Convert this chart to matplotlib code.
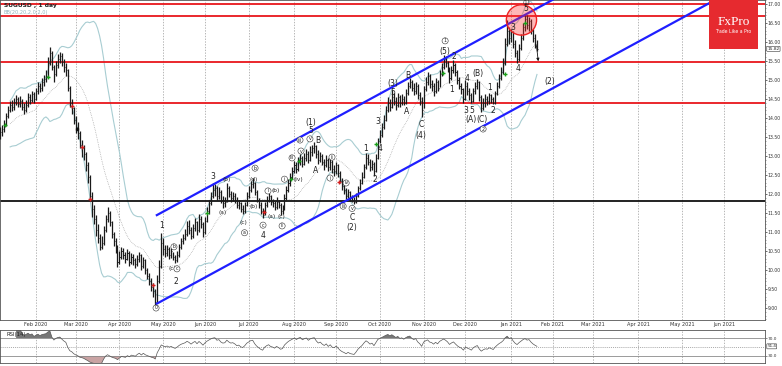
import matplotlib
matplotlib.use("Agg")
import matplotlib.pyplot as plt
import matplotlib.transforms as mtransforms
from matplotlib.patches import Ellipse
import numpy as np
import pandas as pd

# SUGUSD daily bars from 6 Jan 2020 (business days)
closes = [
    13.45, 13.55, 13.62, 13.70, 13.85, 14.05, 14.20, 14.35, 14.28, 14.42,
    14.50, 14.38, 14.46, 14.30, 14.22, 14.35, 14.55, 14.48, 14.62, 14.50,
    14.70, 14.85, 14.78, 14.95, 15.02, 15.10, 15.45, 15.70, 15.35, 15.15,
    15.40, 15.55, 15.62, 15.48, 15.35, 15.25, 14.80, 14.40, 14.25, 13.95,
    13.75, 13.60, 13.30, 13.20, 13.05, 12.75, 12.45, 11.95, 11.60, 11.35,
    11.05, 10.85, 10.60, 10.70, 11.05, 11.35, 11.50, 11.25, 10.95, 10.75,
    10.60, 10.20, 10.35, 10.50, 10.40, 10.30, 10.45, 10.20, 10.35, 10.25,
    10.15, 10.30, 10.40, 10.10, 10.25, 10.00, 9.85, 9.70, 9.55, 9.45,
    9.15, 9.70, 10.10, 10.70, 10.55, 10.45, 10.55, 10.40, 10.50, 10.35,
    10.25, 10.40, 10.60, 10.75, 10.85, 10.95, 11.15, 11.05, 10.90, 11.10,
    11.25, 11.05, 11.35, 11.20, 11.00, 11.30, 11.55, 11.75, 11.95, 12.10,
    12.15, 11.95, 12.05, 11.85, 11.75, 11.80, 12.15, 12.00, 11.90, 11.95,
    11.85, 11.70, 11.75, 11.60, 11.55, 11.70, 11.95, 12.10, 12.25, 12.30,
    12.05, 11.85, 11.70, 11.55, 11.45, 11.70, 11.85, 11.95, 11.80, 11.75,
    11.65, 11.80, 11.70, 11.55, 11.60, 11.90, 12.10, 12.30, 12.45, 12.60,
    12.75, 12.65, 12.85, 12.95, 12.80, 12.95, 13.05, 12.90, 13.10, 13.20,
    13.25, 13.05, 12.90, 13.00, 12.85, 12.75, 12.90, 12.70, 12.85, 12.65,
    12.60, 12.75, 12.55, 12.35, 12.20, 12.10, 11.95, 12.05, 11.90, 11.85,
    11.80, 11.95, 12.15, 12.30, 12.45, 12.70, 12.95, 12.85, 12.70, 12.80,
    12.60, 12.95, 13.40, 13.55, 13.75, 13.95, 14.20, 14.40, 14.30, 14.55,
    14.45, 14.35, 14.55, 14.40, 14.50, 14.40, 14.65, 14.85, 14.95, 14.80,
    14.70, 14.85, 14.60, 14.45, 14.20, 14.75, 14.95, 15.10, 14.90, 14.85,
    14.70, 14.95, 14.80, 15.15, 15.35, 15.55, 15.45, 15.30, 15.05, 15.25,
    15.40, 15.20, 15.00, 14.85, 14.75, 14.50, 14.85, 14.70, 14.60, 14.45,
    14.70, 14.85, 14.95, 14.55, 14.25, 14.40, 14.50, 14.45, 14.60, 14.50,
    14.40, 14.65, 14.85, 15.05, 15.20, 15.45, 15.95, 16.30, 16.10, 16.25,
    15.95, 15.70, 15.55, 15.85, 16.10, 16.40, 16.60, 16.45, 16.55, 16.30,
    16.10, 15.95, 15.82,
]
highs = [
    13.60, 13.65, 13.75, 13.82, 13.95, 14.12, 14.32, 14.45, 14.48, 14.52,
    14.60, 14.55, 14.58, 14.50, 14.40, 14.48, 14.65, 14.62, 14.72, 14.68,
    14.78, 14.95, 14.92, 15.05, 15.12, 15.25, 15.60, 15.88, 15.75, 15.40,
    15.50, 15.68, 15.74, 15.70, 15.55, 15.45, 15.28, 14.85, 14.50, 14.30,
    14.05, 13.90, 13.65, 13.42, 13.30, 13.10, 12.85, 12.50, 12.05, 11.70,
    11.45, 11.20, 10.95, 10.90, 11.15, 11.45, 11.66, 11.55, 11.30, 11.00,
    10.85, 10.65, 10.50, 10.60, 10.58, 10.48, 10.55, 10.50, 10.45, 10.42,
    10.32, 10.40, 10.48, 10.42, 10.35, 10.28, 10.05, 9.92, 9.80, 9.65,
    9.50, 9.87, 10.25, 10.97, 10.85, 10.65, 10.65, 10.60, 10.58, 10.48,
    10.40, 10.50, 10.68, 10.85, 10.95, 11.08, 11.28, 11.32, 11.12, 11.20,
    11.38, 11.30, 11.48, 11.42, 11.25, 11.40, 11.65, 11.85, 12.05, 12.29,
    12.25, 12.20, 12.18, 12.10, 11.95, 11.92, 12.28, 12.22, 12.08, 12.05,
    12.02, 11.92, 11.85, 11.80, 11.70, 11.78, 12.05, 12.20, 12.35, 12.42,
    12.32, 12.10, 11.90, 11.78, 11.62, 11.80, 11.95, 12.03, 11.98, 11.88,
    11.82, 11.92, 11.85, 11.75, 11.70, 12.00, 12.20, 12.40, 12.55, 12.70,
    12.88, 12.85, 12.97, 13.05, 13.00, 13.08, 13.18, 13.12, 13.25, 13.30,
    13.37, 13.30, 13.15, 13.10, 13.05, 12.92, 13.02, 12.95, 12.95, 12.90,
    12.75, 12.85, 12.80, 12.60, 12.42, 12.30, 12.15, 12.12, 12.08, 11.98,
    11.92, 12.02, 12.22, 12.40, 12.58, 12.80, 13.08, 13.05, 12.92, 12.90,
    12.85, 13.05, 13.48, 13.68, 13.87, 14.08, 14.32, 14.55, 14.50, 14.74,
    14.66, 14.55, 14.65, 14.60, 14.62, 14.58, 14.75, 14.95, 15.05, 15.00,
    14.92, 14.95, 14.90, 14.68, 14.55, 14.85, 15.08, 15.22, 15.15, 15.00,
    14.92, 15.05, 15.00, 15.25, 15.45, 15.66, 15.62, 15.50, 15.35, 15.38,
    15.52, 15.45, 15.25, 15.08, 14.92, 14.80, 15.00, 14.95, 14.78, 14.65,
    14.80, 14.95, 15.03, 14.98, 14.60, 14.52, 14.62, 14.58, 14.66, 14.64,
    14.55, 14.72, 14.95, 15.15, 15.34, 15.58, 16.10, 16.58, 16.40, 16.35,
    16.30, 16.05, 15.80, 15.95, 16.22, 16.50, 16.74, 16.70, 16.65, 16.60,
    16.35, 16.20, 16.05,
]
lows = [
    13.35, 13.38, 13.45, 13.52, 13.62, 13.80, 14.00, 14.15, 14.18, 14.22,
    14.35, 14.28, 14.30, 14.20, 14.10, 14.15, 14.30, 14.38, 14.42, 14.40,
    14.48, 14.62, 14.68, 14.72, 14.85, 14.95, 15.05, 15.40, 15.25, 14.96,
    15.10, 15.32, 15.45, 15.38, 15.20, 15.10, 14.70, 14.30, 14.10, 13.85,
    13.60, 13.45, 13.20, 12.98, 12.90, 12.60, 12.30, 11.85, 11.40, 11.20,
    10.90, 10.70, 10.53, 10.55, 10.65, 11.00, 11.25, 11.15, 10.85, 10.62,
    10.45, 10.08, 10.15, 10.28, 10.30, 10.18, 10.25, 10.10, 10.15, 10.12,
    10.05, 10.10, 10.20, 10.00, 10.05, 9.90, 9.75, 9.60, 9.45, 9.30,
    9.08, 9.12, 9.65, 10.05, 10.40, 10.35, 10.38, 10.30, 10.32, 10.25,
    10.18, 10.20, 10.35, 10.55, 10.68, 10.78, 10.90, 10.95, 10.82, 10.85,
    11.02, 10.92, 11.00, 11.10, 10.88, 10.95, 11.25, 11.48, 11.70, 11.90,
    11.95, 11.85, 11.88, 11.75, 11.63, 11.65, 11.78, 11.92, 11.80, 11.82,
    11.75, 11.62, 11.60, 11.52, 11.48, 11.50, 11.68, 11.90, 12.05, 12.15,
    11.98, 11.78, 11.62, 11.48, 11.37, 11.45, 11.65, 11.78, 11.72, 11.65,
    11.58, 11.60, 11.62, 11.45, 11.48, 11.58, 11.85, 12.05, 12.22, 12.40,
    12.55, 12.55, 12.60, 12.75, 12.70, 12.75, 12.88, 12.82, 12.88, 13.00,
    13.08, 12.95, 12.80, 12.85, 12.75, 12.62, 12.70, 12.60, 12.62, 12.55,
    12.48, 12.52, 12.45, 12.28, 12.10, 12.00, 11.88, 11.90, 11.82, 11.78,
    11.74, 11.76, 11.92, 12.10, 12.25, 12.42, 12.65, 12.75, 12.60, 12.62,
    12.47, 12.58, 12.92, 13.35, 13.50, 13.70, 13.92, 14.15, 14.18, 14.25,
    14.35, 14.22, 14.30, 14.30, 14.35, 14.34, 14.38, 14.60, 14.78, 14.70,
    14.60, 14.62, 14.50, 14.35, 14.03, 14.25, 14.70, 14.88, 14.80, 14.72,
    14.58, 14.65, 14.70, 14.82, 15.10, 15.30, 15.35, 15.20, 14.92, 15.00,
    15.18, 15.10, 14.90, 14.75, 14.62, 14.40, 14.48, 14.60, 14.48, 14.40,
    14.42, 14.62, 14.75, 14.45, 14.16, 14.20, 14.30, 14.35, 14.38, 14.40,
    14.37, 14.38, 14.60, 14.80, 15.00, 15.15, 15.40, 15.90, 15.95, 16.00,
    15.85, 15.60, 15.45, 15.50, 15.80, 16.05, 16.30, 16.35, 16.30, 16.20,
    16.00, 15.85, 15.75,
]

# horizontal levels
red_levels = [17.00, 16.68, 15.48, 14.40]
black_level = 11.82

# signal markers (bar index, price)
green_sig_x = [4.4, 25.9, 106, 148.3, 152.3, 191, 224.8, 255.9, 266]
green_sig_y = [13.82, 15.09, 11.50, 12.39, 12.87, 13.32, 15.18, 15.16, 16.50]
red_sig_x = [38.1, 43.2, 47.2, 78.9, 134.7, 172.6]
red_sig_y = [14.32, 13.24, 11.87, 9.61, 11.53, 12.32]

dates = pd.bdate_range("2020-01-06", "2021-06-30")
n = len(closes)
x = np.arange(n)
s = pd.Series(closes)

# Bollinger(20, 2)
mid = s.rolling(20, min_periods=8).mean()
sd = s.rolling(20, min_periods=8).std(ddof=0)
upper = mid + 2 * sd
lower = mid - 2 * sd

# RSI(14)
delta = s.diff()
gain = delta.clip(lower=0).ewm(alpha=1 / 14, adjust=False, min_periods=10).mean()
loss = (-delta.clip(upper=0)).ewm(alpha=1 / 14, adjust=False, min_periods=10).mean()
rsi = 100 - 100 / (1 + gain / loss)

fig = plt.figure(figsize=(7.82, 3.66), dpi=100)
W, H = 782.0, 366.0
ax = fig.add_axes([0, 1 - 320 / H, 765 / W, 320 / H])
ax2 = fig.add_axes([0, 1 - 363 / H, 765 / W, 33 / H], sharex=ax)

xmin, xmax = 1.9, 386.7
ax.set_xlim(xmin, xmax)
ax.set_ylim(8.684, 17.105)

# month grid
month_pos = []
month_lab = []
prev = None
for i, d in enumerate(dates):
    if d.month != prev:
        if i > 0:
            month_pos.append(i)
            month_lab.append(d.strftime("%b %Y"))
        prev = d.month
for a in (ax, ax2):
    for p in month_pos:
        a.axvline(p, color="#9a9a9a", lw=0.5, ls=(0, (2, 2)), zorder=0)

# levels
for lv in red_levels:
    ax.axhline(lv, color="#e8161b", lw=1.3, zorder=2)
ax.axhline(black_level, color="#111111", lw=1.3, zorder=2)

# bollinger
ax.plot(x, upper, color="#a8cdd2", lw=0.8, zorder=1)
ax.plot(x, lower, color="#a8cdd2", lw=0.8, zorder=1)
ax.plot(x, mid, color="#9a9a9a", lw=0.5, ls=(0, (1, 1.5)), zorder=1)

# bars
ax.vlines(x, lows, highs, color="#1a1a1a", lw=0.9, zorder=3)
ax.hlines(closes, x, x + 0.55, color="#1a1a1a", lw=0.6, zorder=3)

# channel
ch_x0 = 80.3
ch_slope = 0.02846
ch_upper0 = 11.43
ch_lower0 = 9.10
ch_x1 = 420
ax.plot([ch_x0, ch_x1], [ch_upper0, ch_upper0 + ch_slope * (ch_x1 - ch_x0)],
        color="#1f1fff", lw=1.6, zorder=4, solid_capstyle="butt")
ax.plot([ch_x0, ch_x1], [ch_lower0, ch_lower0 + ch_slope * (ch_x1 - ch_x0)],
        color="#1f1fff", lw=1.6, zorder=4, solid_capstyle="butt")

# red circle at the top
ax.add_patch(Ellipse((264.2, 16.58), width=15.2, height=0.80,
                     fc=(1, 0.2, 0.2, 0.35), ec="#ee2222", lw=1.0, zorder=5))

# signals
ax.plot(green_sig_x, green_sig_y, ls="none", marker="+", ms=3, mew=1.0, color="#1aa01a", zorder=6)
ax.plot(red_sig_x, red_sig_y, ls="none", marker="+", ms=3, mew=1.0, color="#d42020", zorder=6)
ax.plot([40.6], [13.71], ls="none", marker="s", ms=1.5, color="#111111", zorder=6)

# forecast arrow
ax.annotate("", xy=(272.8, 15.42), xytext=(271.6, 15.98),
            arrowprops=dict(arrowstyle="-|>", color="#111111", lw=0.6,
                            mutation_scale=4), zorder=6)

# wave labels: (text, bar index, price, kind) kind: big / small / circ
waves = [
    ("0", 80.4, 9.00, "circ"), ("1", 83.4, 11.18, "big"), ("b", 89.4, 10.61, "circ"),
    ("(c)", 88.5, 10.05, "small"), ("c", 90.9, 10.03, "circ"), ("2", 90.4, 9.71, "big"),
    ("3", 109.1, 12.45, "big"), ("(b)", 116.1, 12.39, "small"), ("(a)", 114.1, 11.50, "small"),
    ("b", 130.2, 12.68, "circ"), ("(d)", 129.7, 12.39, "small"), ("(b)", 129.7, 11.68, "small"),
    ("(c)", 124.6, 11.24, "small"), ("a", 124.9, 10.98, "circ"), ("c", 134.2, 11.18, "circ"),
    ("4", 134.2, 10.92, "big"), ("i", 136.7, 12.08, "circ"), ("(b)", 140.7, 12.08, "small"),
    ("(a)", 138.7, 11.42, "small"), ("(c)", 143.3, 11.42, "small"), ("ii", 143.8, 11.16, "circ"),
    ("i", 145.0, 12.39, "circ"), ("(iv)", 152.0, 12.37, "small"), ("iii", 148.8, 12.95, "circ"),
    ("v", 153.3, 13.13, "circ"), ("iii", 152.8, 13.42, "circ"), ("v", 157.8, 13.45, "circ"),
    ("(1)", 158.3, 13.89, "big"), ("5", 158.3, 13.66, "big"), ("B", 161.9, 13.42, "big"),
    ("A", 160.4, 12.63, "big"), ("i", 167.9, 12.42, "circ"), ("ii", 168.9, 12.97, "circ"),
    ("iv", 176.0, 12.29, "circ"), ("iii", 174.5, 11.68, "circ"), ("v", 179.0, 11.62, "circ"),
    ("C", 179.0, 11.39, "big"), ("(2)", 179.0, 11.11, "big"), ("2", 190.5, 12.37, "big"),
    ("1", 186.0, 13.21, "big"), ("3", 192.0, 13.92, "big"), ("4", 193.0, 13.21, "big"),
    ("(3)", 199.6, 14.92, "big"), ("5", 199.6, 14.68, "big"), ("B", 207.1, 15.11, "big"),
    ("A", 206.6, 14.18, "big"), ("C", 213.7, 13.84, "big"), ("(4)", 213.7, 13.55, "big"),
    ("1", 225.8, 16.03, "circ"), ("(5)", 225.8, 15.76, "big"), ("2", 230.3, 15.61, "big"),
    ("1", 228.8, 14.76, "big"), ("4", 236.8, 15.03, "big"), ("(B)", 242.4, 15.18, "big"),
    ("3", 236.3, 14.21, "big"), ("5", 239.3, 14.21, "big"), ("(A)", 238.8, 13.95, "big"),
    ("(C)", 244.4, 13.97, "big"), ("2", 244.9, 13.71, "circ"), ("1", 248.4, 14.79, "big"),
    ("2", 249.9, 14.21, "big"), ("3", 260.0, 16.39, "big"), ("4", 262.5, 15.29, "big"),
    ("5", 266.5, 16.87, "big"), ("(2)", 278.6, 14.97, "big"),
]
for t, wx, wy, kind in waves:
    if kind == "big":
        ax.text(wx, wy, t, ha="center", va="center", fontsize=5.5, color="#222222", zorder=7)
    elif kind == "small":
        ax.text(wx, wy, t, ha="center", va="center", fontsize=4.2, color="#222222", zorder=7)
    else:
        ax.text(wx, wy, t, ha="center", va="center", fontsize=3.4, color="#222222", zorder=7,
                bbox=dict(boxstyle="circle,pad=0.12", fc="white", ec="#333333", lw=0.4))
# top label squeezed under the frame
ax.text(266.8, 17.10, "(1)", ha="center", va="top", fontsize=4.0, color="#222222", zorder=7)

# header
ax.text(0.005, 0.992, "SUGUSD , 1 day", transform=ax.transAxes, fontsize=4.3,
        fontweight="bold", color="#222222", va="top", ha="left", zorder=8)
ax.text(0.005, 0.968, "BB(20,20,2.0,2,0)", transform=ax.transAxes, fontsize=3.6,
        color="#8fb3bd", va="top", ha="left", zorder=8)

# FxPro logo
logo = fig.add_axes([709 / W, 1 - 49 / H, 49 / W, 49 / H])
logo.set_facecolor("#e62a2f")
logo.set_xticks([])
logo.set_yticks([])
for sp in logo.spines.values():
    sp.set_visible(False)
logo.text(0.5, 0.55, "FxPro", ha="center", va="center", color="white",
          fontsize=9.5, family="Liberation Serif")
logo.text(0.5, 0.36, "Trade Like a Pro", ha="center", va="center", color="white",
          fontsize=3.3)

# price axis
ax.yaxis.tick_right()
ax.set_yticks(np.arange(9.0, 17.01, 0.5))
ax.set_yticks(np.arange(8.7, 17.1, 0.1), minor=True)
ax.yaxis.set_major_formatter(matplotlib.ticker.FormatStrFormatter("%.2f"))
ax.tick_params(axis="y", which="major", labelsize=3.3, length=1.6, width=0.5, pad=0.5,
               colors="#333333")
ax.tick_params(axis="y", which="minor", length=0.9, width=0.4, colors="#555555")
ax.set_xticks(month_pos)
ax.set_xticklabels(month_lab)
ax.tick_params(axis="x", labelsize=3.6, length=0, pad=1.5, colors="#333333")
trans = mtransforms.blended_transform_factory(ax.transAxes, ax.transData)
ax.text(1.003, closes[-1], "%.2f" % closes[-1], transform=trans, fontsize=3.1,
        va="center", ha="left", color="#222222",
        bbox=dict(boxstyle="round,pad=0.12", fc="white", ec="#333333", lw=0.4))
for sp in ax.spines.values():
    sp.set_color("#555555")
    sp.set_linewidth(0.6)

# RSI panel
ax2.set_ylim(14.4, 87.8)
ax2.axhline(70, color="#8a8a8a", lw=0.6)
ax2.axhline(30, color="#8a8a8a", lw=0.6)
ax2.axhline(50, color="#8a8a8a", lw=0.5, ls=(0, (1.5, 1.5)))
ax2.plot(x, rsi, color="#555555", lw=0.5)
r = rsi.to_numpy()
ax2.fill_between(x, r, 30, where=r < 30, color="#c9a3a3", interpolate=True, lw=0)
ax2.fill_between(x, r, 70, where=r > 70, color="#777777", interpolate=True, lw=0)
ax2.text(0.008, 0.93, "RSI(14)", transform=ax2.transAxes, fontsize=3.8, va="top",
         ha="left", color="#222222")
ax2.yaxis.tick_right()
ax2.set_yticks([70, 30])
ax2.set_yticklabels(["70.0", "30.0"])
ax2.tick_params(axis="y", labelsize=3.1, length=1.5, width=0.4, pad=0.5, colors="#333333")
ax2.tick_params(axis="x", length=0, labelbottom=False)
trans2 = mtransforms.blended_transform_factory(ax2.transAxes, ax2.transData)
ax2.text(1.003, r[-1], "%.1f" % r[-1], transform=trans2, fontsize=3.0, va="center",
         ha="left", color="#222222",
         bbox=dict(boxstyle="round,pad=0.12", fc="white", ec="#333333", lw=0.4))
for sp in ax2.spines.values():
    sp.set_color("#555555")
    sp.set_linewidth(0.6)

fig.savefig("out.png", dpi=100)
